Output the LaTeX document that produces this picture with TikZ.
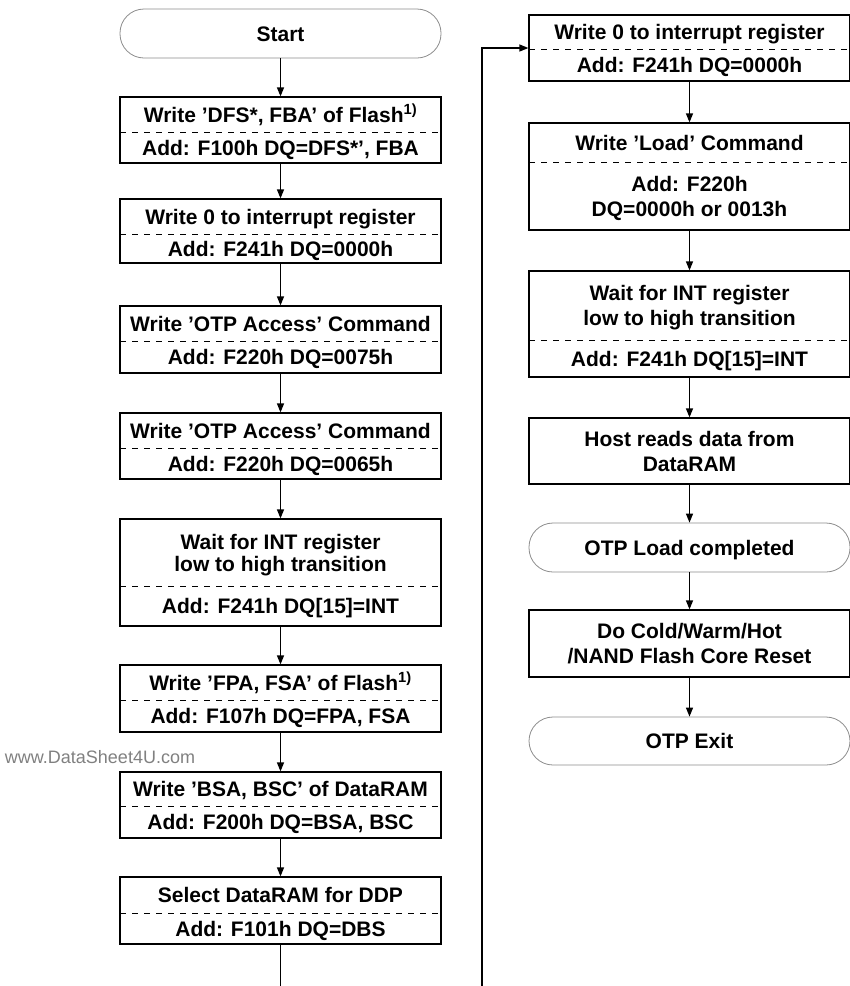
\documentclass[tikz,border=0pt]{standalone}
\usepackage{fontspec}
\setmainfont{Liberation Sans}
\usetikzlibrary{arrows.meta}

\tikzset{
  stepbox/.style={draw, line width=1.2pt, minimum width=321pt, inner sep=0pt},
  termbox/.style={draw=black!45, line width=0.8pt, rounded corners=24pt, minimum width=321pt, minimum height=49pt, inner sep=0pt, text height=15pt, text depth=0pt, font=\bfseries\fontsize{21}{25}\selectfont},
  steptext/.style={inner sep=0pt, align=center, text height=15pt, text depth=0pt, font=\bfseries\fontsize{21}{25}\selectfont},
  steptwo/.style={inner sep=0pt, align=center, text height=40pt, text depth=0pt, font=\bfseries\fontsize{21}{25}\selectfont},
  splitline/.style={dash pattern=on 6pt off 6pt, line width=0.8pt},
  flowarrow/.style={-{Triangle[length=9pt,width=7pt]}, line width=1.2pt}
}

\begin{document}
\begin{tikzpicture}[x=1pt,y=-1pt]
\useasboundingbox (0,0) rectangle (850,986);
% left column
\node[termbox] (start) at (280.5,33.5) {Start};
\node[stepbox, minimum height=66pt] (b1) at (280.5,130) {};
\node[steptext] (b1a) at (280.5,114.5) {Write ’DFS*, FBA’ of Flash\textsuperscript{1)}};
\node[steptext] (b1b) at (280.5,147.5) {Add: F100h DQ=DFS*’, FBA};
\draw[splitline] (120,132)--(441,132);
\node[stepbox, minimum height=64pt] (b2) at (280.5,231) {};
\node[steptext] (b2a) at (280.5,216.5) {Write 0 to interrupt register};
\node[steptext] (b2b) at (280.5,248.5) {Add: F241h DQ=0000h};
\draw[splitline] (120,234)--(441,234);
\node[stepbox, minimum height=67pt] (b3) at (280.5,339.5) {};
\node[steptext] (b3a) at (280.5,323.5) {Write ’OTP Access’ Command};
\node[steptext] (b3b) at (280.5,357) {Add: F220h DQ=0075h};
\draw[splitline] (120,341)--(441,341);
\node[stepbox, minimum height=66pt] (b4) at (280.5,446) {};
\node[steptext] (b4a) at (280.5,430.5) {Write ’OTP Access’ Command};
\node[steptext] (b4b) at (280.5,463.5) {Add: F220h DQ=0065h};
\draw[splitline] (120,448)--(441,448);
\node[stepbox, minimum height=107pt] (b5) at (280.5,572.5) {};
\node[steptwo, text height=37pt, font=\bfseries\fontsize{21}{22}\selectfont] (b5a) at (280.5,552.5) {Wait for INT register\\low to high transition};
\node[steptext] (b5b) at (280.5,606) {Add: F241h DQ[15]=INT};
\draw[splitline] (120,586)--(441,586);
\node[stepbox, minimum height=67pt] (b6) at (280.5,698.5) {};
\node[steptext] (b6a) at (280.5,682.5) {Write ’FPA, FSA’ of Flash\textsuperscript{1)}};
\node[steptext] (b6b) at (280.5,716) {Add: F107h DQ=FPA, FSA};
\draw[splitline] (120,700)--(441,700);
\node[stepbox, minimum height=66pt] (b7) at (280.5,805) {};
\node[steptext] (b7a) at (280.5,789) {Write ’BSA, BSC’ of DataRAM};
\node[steptext] (b7b) at (280.5,822) {Add: F200h DQ=BSA, BSC};
\draw[splitline] (120,806)--(441,806);
\node[stepbox, minimum height=67pt] (b8) at (280.5,910.5) {};
\node[steptext] (b8a) at (280.5,895) {Select DataRAM for DDP};
\node[steptext] (b8b) at (280.5,928.5) {Add: F101h DQ=DBS};
\draw[splitline] (120,913)--(441,913);
\coordinate (leftend) at (280.5,986);
\node[text=black!50, inner sep=0pt, font=\fontsize{18}{20}\selectfont] (mark) at (100,757) {www.DataSheet4U.com};

% right column
\coordinate (loopstart) at (482,986);
\node[stepbox, minimum height=66pt] (r1) at (689.5,48) {};
\node[steptext] (r1a) at (689.5,32) {Write 0 to interrupt register};
\node[steptext] (r1b) at (689.5,65) {Add: F241h DQ=0000h};
\draw[splitline] (529,49)--(850,49);
\node[stepbox, minimum height=107pt] (r2) at (689.5,176.5) {};
\node[steptext] (r2a) at (689.5,142.5) {Write ’Load’ Command};
\node[steptwo] (r2b) at (689.5,196) {Add: F220h\\DQ=0000h or 0013h};
\draw[splitline] (529,162)--(850,162);
\node[stepbox, minimum height=106pt] (r3) at (689.5,324) {};
\node[steptwo] (r3a) at (689.5,305.5) {Wait for INT register\\low to high transition};
\node[steptext] (r3b) at (689.5,358.5) {Add: F241h DQ[15]=INT};
\draw[splitline] (529,340)--(850,340);
\node[stepbox, minimum height=66pt] (r4) at (689.5,451) {};
\node[steptwo] (r4a) at (689.5,451) {Host reads data from\\DataRAM};
\node[termbox] (done) at (689.5,547.5) {OTP Load completed};
\node[stepbox, minimum height=67pt] (r6) at (689.5,643.5) {};
\node[steptwo] (r6a) at (689.5,643.5) {Do Cold/Warm/Hot\\/NAND Flash Core Reset};
\node[termbox, minimum height=48pt] (exit) at (689.5,741) {OTP Exit};

% arrows
\draw[flowarrow] (start)--(b1);
\draw[flowarrow] (b1)--(b2);
\draw[flowarrow] (b2)--(b3);
\draw[flowarrow] (b3)--(b4);
\draw[flowarrow] (b4)--(b5);
\draw[flowarrow] (b5)--(b6);
\draw[flowarrow] (b6)--(b7);
\draw[flowarrow] (b7)--(b8);
\draw[line width=1.2pt] (b8)--(leftend);
\draw[flowarrow] (loopstart)|-(r1);
\draw[flowarrow] (r1)--(r2);
\draw[flowarrow] (r2)--(r3);
\draw[flowarrow] (r3)--(r4);
\draw[flowarrow] (r4)--(done);
\draw[flowarrow] (done)--(r6);
\draw[flowarrow] (r6)--(exit);
\end{tikzpicture}
\end{document}
